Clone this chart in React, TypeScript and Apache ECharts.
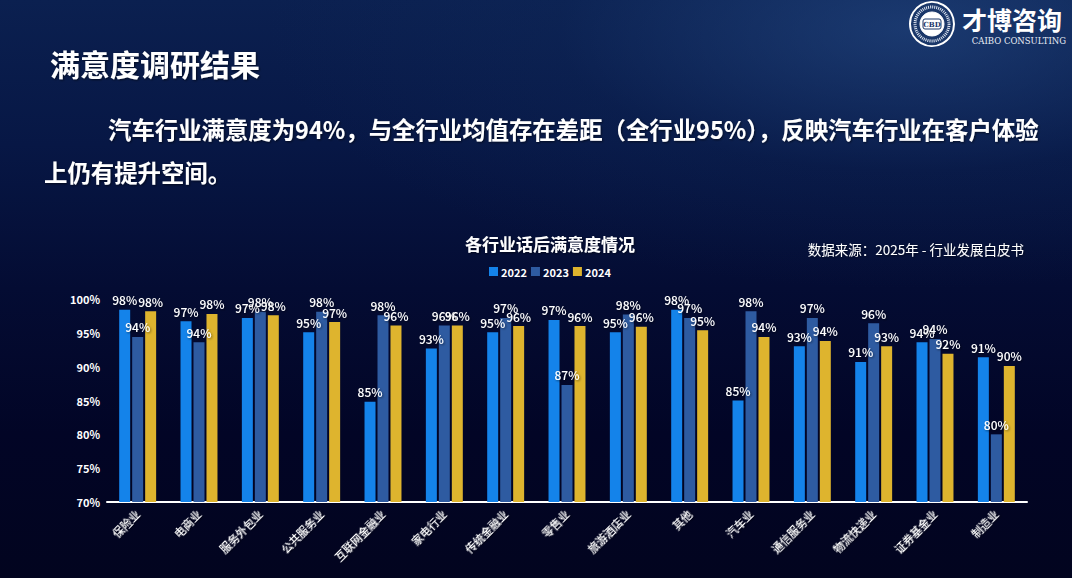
import React, { useEffect, useRef } from 'react'
import * as echarts from 'echarts'

const categories = ['保险业', '电商业', '服务外包业', '公共服务业', '互联网金融业', '家电行业', '传统金融业', '零售业', '旅游酒店业', '其他', '汽车业', '通信服务业', '物流快递业', '证券基金业', '制造业']
const years = ['2022', '2023', '2024']
const values2022 = [98.4, 96.7, 97.2, 95.1, 84.8, 92.7, 95.1, 96.9, 95.1, 98.4, 85.0, 93.0, 90.7, 93.6, 91.4]
const values2023 = [94.4, 93.6, 98.1, 98.1, 97.6, 96.1, 97.2, 87.3, 97.7, 97.2, 98.2, 97.2, 96.4, 94.1, 80.0]
const values2024 = [98.2, 97.8, 97.6, 96.6, 96.1, 96.1, 96.0, 96.0, 95.9, 95.4, 94.4, 93.8, 93.0, 91.9, 90.1]
const yTicks = { min: 70, max: 100, step: 5 }
const colors = ['#1483ea', '#2e5ba1', '#deb42e']

const FONT = '"Noto Sans CJK SC", "Noto Sans", sans-serif'

const App = () => {
  const chartRef = useRef<HTMLDivElement>(null)

  useEffect(() => {
    if (!chartRef.current) return
    const chart = echarts.init(chartRef.current, undefined, { renderer: 'svg' })

    const shadow = { textShadowColor: 'rgba(0,0,0,0.55)', textShadowBlur: 2, textShadowOffsetX: 1, textShadowOffsetY: 1 }

    const seriesData = [values2022, values2023, values2024]

    chart.setOption({
      animation: false,
      backgroundColor: 'transparent',
      textStyle: { fontFamily: FONT },
      grid: { left: 107, right: 45, top: 299, bottom: 76 },
      legend: {
        data: years,
        left: 489,
        top: 266,
        itemWidth: 9,
        itemHeight: 9,
        itemGap: 4,
        padding: 0,
        icon: 'rect',
        textStyle: { color: '#ffffff', fontSize: 11, fontWeight: 'bold', padding: [0, 0, 0, -2] }
      },
      xAxis: {
        type: 'category',
        data: categories,
        axisLine: { lineStyle: { color: '#ffffff', width: 2 } },
        axisTick: { show: false },
        axisLabel: { color: '#ffffff', fontSize: 11, fontWeight: 500, rotate: 45, interval: 0, margin: 10, ...shadow }
      },
      yAxis: {
        type: 'value',
        min: yTicks.min,
        max: yTicks.max,
        interval: yTicks.step,
        axisLine: { show: false },
        axisTick: { show: false },
        splitLine: { show: false },
        axisLabel: { color: '#ffffff', fontSize: 11, fontWeight: 'bold', margin: 7, formatter: '{value}%' }
      },
      series: years.map((y, i) => ({
        name: y,
        type: 'bar',
        data: seriesData[i],
        barWidth: 11,
        barGap: '18%',
        itemStyle: { color: colors[i] },
        label: {
          show: true,
          position: 'top',
          distance: 4,
          color: '#ffffff',
          fontSize: 12,
          fontWeight: 500,
          ...shadow,
          formatter: (p: { value: number }) => Math.round(p.value) + '%'
        }
      })),
      graphic: [
        {
          type: 'text',
          style: { text: '满意度调研结果', x: 50, y: 63, textVerticalAlign: 'middle', fill: '#ffffff', fontSize: 30, fontWeight: 'bold', fontFamily: FONT, ...shadow }
        },
        {
          type: 'text',
          style: { text: '汽车行业满意度为94%，与全行业均值存在差距（全行业95%），反映汽车行业在客户体验', x: 108, y: 129, textVerticalAlign: 'middle', fill: '#ffffff', fontSize: 23.4, fontWeight: 'bold', fontFamily: FONT, ...shadow }
        },
        {
          type: 'text',
          style: { text: '上仍有提升空间。', x: 44, y: 172, textVerticalAlign: 'middle', fill: '#ffffff', fontSize: 23.4, fontWeight: 'bold', fontFamily: FONT, ...shadow }
        },
        {
          type: 'text',
          style: { text: '各行业话后满意度情况', x: 550, y: 243, textAlign: 'center', textVerticalAlign: 'middle', fill: '#ffffff', fontSize: 17, fontWeight: 'bold', fontFamily: FONT, ...shadow }
        },
        {
          type: 'text',
          style: { text: '数据来源：2025年 - 行业发展白皮书', x: 1024, y: 249, textAlign: 'right', textVerticalAlign: 'middle', fill: '#ffffff', fontSize: 13.5, fontFamily: FONT, ...shadow }
        },
        // logo emblem
        { type: 'circle', shape: { cx: 932, cy: 24, r: 22 }, style: { fill: '#1a3769', stroke: '#ffffff', lineWidth: 2 } },
        { type: 'circle', shape: { cx: 932, cy: 24, r: 17 }, style: { fill: 'none', stroke: '#dfe6f2', lineWidth: 3, lineDash: [1, 1] } },
        { type: 'circle', shape: { cx: 932, cy: 24, r: 12 }, style: { fill: '#ffffff', stroke: '#ffffff', lineWidth: 1 } },
        { type: 'rect', shape: { x: 923, y: 19, width: 18, height: 10, r: 2 }, style: { fill: '#ffffff', stroke: '#1a3769', lineWidth: 1 } },
        { type: 'text', style: { text: 'CBD', x: 932, y: 24, textAlign: 'center', textVerticalAlign: 'middle', fill: '#1a3769', fontSize: 7, fontWeight: 'bold', fontFamily: 'DejaVu Serif' } },
        { type: 'text', style: { text: '才博咨询', x: 962, y: 19, textVerticalAlign: 'middle', fill: '#ffffff', fontSize: 25, fontWeight: 'bold', fontFamily: FONT } },
        { type: 'text', style: { text: 'CAIBO CONSULTING', x: 1066, y: 41, textAlign: 'right', textVerticalAlign: 'middle', fill: '#e8edf5', fontSize: 8.5, fontFamily: '"DejaVu Serif", serif' } }
      ]
    })

    return () => {
      chart.dispose()
    }
  }, [])

  return (
    <div style={{
      position: 'fixed',
      left: 0,
      top: 0,
      width: '100vw',
      height: '100vh',
      background: 'radial-gradient(ellipse 60% 45% at 85% 5%, rgba(40,80,140,0.55) 0%, rgba(20,50,100,0.2) 55%, rgba(0,0,0,0) 100%), linear-gradient(180deg, #0b2050 0%, #071745 25%, #040c33 50%, #020526 75%, #02041f 100%)'
    }}>
      <div ref={chartRef} style={{ width: '100%', height: '100%' }} />
    </div>
  )
}

export default App
